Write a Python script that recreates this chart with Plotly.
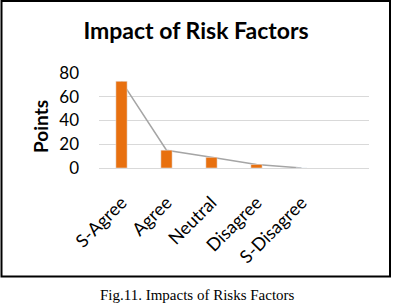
import plotly.graph_objects as go

categories = ["S-Agree", "Agree", "Neutral", "Disagree", "S-Disagree"]
points = [73, 15, 9, 3, 0]
y_ticks = [0, 20, 40, 60, 80]
title_text = "Impact of Risk Factors"
y_title = "Points"
caption = "Fig.11. Impacts of Risks Factors"

W, H = 393, 307
L, R, T, B = 99, 24, 73, 139
pw, ph = W - L - R, H - T - B

def px_x(px):
    return (px - L) / pw

def px_y(py):
    return (H - B - py) / ph

FONT = "Lato"
bar_color = "#E8700F"
line_color = "#A5A5A5"

fig = go.Figure()
# line (drawn underneath bars)
fig.add_trace(go.Scatter(x=categories, y=points, mode="lines",
                         line=dict(color=line_color, width=1.5),
                         xaxis="x", yaxis="y", showlegend=False))
# bars on overlaid axes so they sit on top of the line
fig.add_trace(go.Bar(x=categories, y=points, marker_color=bar_color,
                     width=0.25, xaxis="x2", yaxis="y2", showlegend=False))

xr = [-0.5, 5.5]
fig.update_layout(
    width=W, height=H,
    margin=dict(l=L, r=R, t=T, b=B),
    paper_bgcolor="white", plot_bgcolor="white",
    font=dict(family=FONT, color="#000000"),
    title=dict(text="<b>" + title_text + "</b>", x=196 / W, xanchor="center",
               y=1 - 31 / H, yanchor="middle", yref="container",
               font=dict(size=23, family=FONT, color="#000000")),
    xaxis=dict(type="category", categoryarray=categories, range=xr,
               tickangle=-45, tickfont=dict(size=18, family=FONT),
               showgrid=False, showline=True, linecolor="#D9D9D9", linewidth=1,
               ticks="", ticklabelstandoff=16, zeroline=False),
    yaxis=dict(range=[0, 80], tickvals=y_ticks, tickfont=dict(size=17, family=FONT),
               showgrid=True, gridcolor="#D9D9D9", gridwidth=1,
               showline=False, ticks="", ticklabelstandoff=19, zeroline=False),
    xaxis2=dict(type="category", categoryarray=categories, range=xr,
                overlaying="x", visible=False, matches="x"),
    yaxis2=dict(range=[0, 80], overlaying="y", visible=False),
    shapes=[dict(type="rect", xref="paper", yref="paper",
                 x0=px_x(1.5), x1=px_x(390), y0=px_y(276.5), y1=px_y(1),
                 line=dict(color="#000000", width=2))],
    annotations=[
        dict(text="<b>" + y_title + "</b>", xref="paper", yref="paper",
             x=px_x(40), y=px_y(127), textangle=-90, showarrow=False,
             xanchor="center", yanchor="middle",
             font=dict(size=19, family=FONT, color="#000000")),
        dict(text=caption, xref="paper", yref="paper",
             x=px_x(197), y=px_y(295), showarrow=False,
             xanchor="center", yanchor="middle",
             font=dict(size=15, family="Liberation Serif", color="#000000")),
    ],
)

fig.write_html("out.html", config={"displayModeBar": False},
               post_script="document.body.style.margin='0';document.body.style.overflow='hidden';")
